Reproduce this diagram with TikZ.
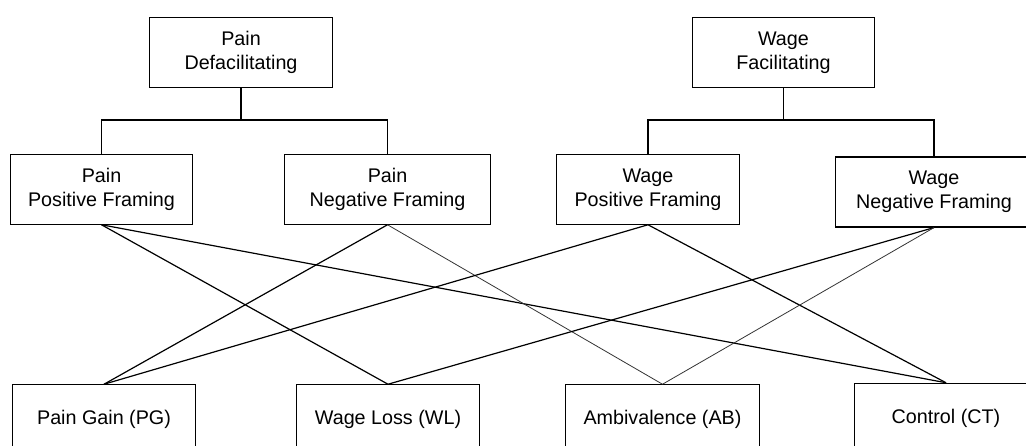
\documentclass[tikz,border=0pt]{standalone}
\usepackage{fontspec}
\setmainfont{Liberation Sans}
\usetikzlibrary{positioning}

\begin{document}
\begin{tikzpicture}[x=0.75pt,y=0.75pt,yscale=-1,xscale=1,
  box/.style={draw, line width=0.9pt, rectangle, minimum width=137pt, minimum height=52pt, inner sep=0pt, align=center, font=\fontsize{14.8}{18}\selectfont},
  link/.style={line width=0.9pt},
  thinlink/.style={line width=0.6pt, color=black!80}]
%set diagram to the page, boxes at the right and bottom run off it
\useasboundingbox (0,0) rectangle (1026,446);
\clip (0,0) rectangle (1026,446);

% Top row
\node [box] (paindef) at (241,52.5) {Pain\\Defacilitating};
\node [box] (wagefac) at (783.5,52.5) {Wage\\Facilitating};

% Framing row
\node [box] (painpos) at (101.5,189.5) {Pain\\Positive Framing};
\node [box, minimum width=154pt] (painneg) at (387.5,189.5) {Pain\\Negative Framing};
\node [box] (wagepos) at (648,189.5) {Wage\\Positive Framing};
\node [box, minimum width=148pt, minimum height=52.5pt] (wageneg) at (934,192) {Wage\\Negative Framing};

% Outcome row
\node [box] (paingain) at (104,419.5) {Pain Gain (PG)};
\node [box] (wageloss) at (388,419.5) {Wage Loss (WL)};
\node [box, minimum width=146pt] (ambiv) at (662.5,419.5) {Ambivalence (AB)};
\node [box] (control) at (946,418) {Control (CT)};

% Brackets
\coordinate (painjoin) at (241,120);
\coordinate (wagejoin) at (783.5,120);
\draw [link] (paindef) -- (painjoin);
\draw [link] (painpos.north) |- (painjoin) -| (painneg.north);
\draw [link] (wagefac) -- (wagejoin);
\draw [link] (wagepos.north) |- (wagejoin) -| (wageneg.north);

% Crossing links
\draw [link] (painpos.south) -- (wageloss.north);
\draw [link] (painpos.south) -- (control.north);
\draw [link] (painneg.south) -- (paingain.north);
\draw [thinlink] (painneg.south) -- (ambiv.north);
\draw [link] (wagepos.south) -- (paingain.north);
\draw [link] (wagepos.south) -- (control.north);
\draw [link] (wageneg.south) -- (wageloss.north);
\draw [thinlink] (wageneg.south) -- (ambiv.north);

\end{tikzpicture}
\end{document}
